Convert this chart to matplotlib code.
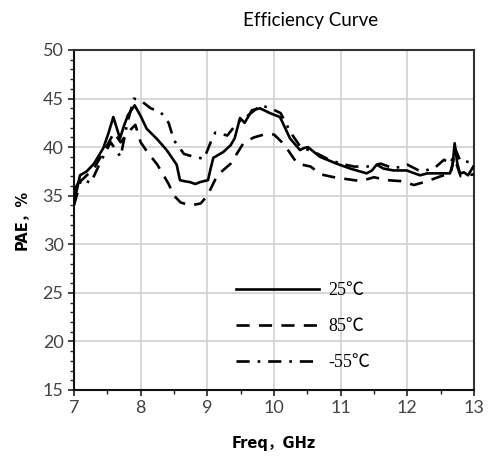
import matplotlib
matplotlib.use("Agg")
import matplotlib.pyplot as plt
from matplotlib.ticker import MultipleLocator

# ---- data ----
f_25 = [7.0, 7.05, 7.09, 7.19, 7.3, 7.44, 7.52, 7.59, 7.64, 7.69, 7.75, 7.81, 7.91, 8.0, 8.09, 8.25,
        8.39, 8.47, 8.54, 8.59, 8.65, 8.74, 8.82, 8.89, 9.01, 9.05, 9.09, 9.24, 9.35, 9.41, 9.49,
        9.56, 9.67, 9.79, 9.94, 10.09, 10.24, 10.39, 10.45, 10.51, 10.69, 10.94, 11.14, 11.39,
        11.47, 11.54, 11.64, 11.79, 11.99, 12.19, 12.3, 12.44, 12.64, 12.68, 12.71, 12.75, 12.79,
        12.85, 12.91, 12.99]
pae_25 = [34.4, 35.8, 37.1, 37.5, 38.3, 39.9, 41.5, 43.1, 42.0, 40.9, 42.2, 43.3, 44.3, 43.2, 41.9, 40.8,
          39.7, 38.9, 38.2, 36.6, 36.5, 36.4, 36.2, 36.4, 36.6, 37.8, 38.9, 39.5, 40.2, 40.9, 43.0,
          42.5, 43.8, 44.0, 43.5, 43.1, 40.9, 39.7, 39.9, 40.0, 39.0, 38.3, 37.8, 37.3,
          37.6, 38.2, 37.8, 37.6, 37.6, 37.1, 37.3, 37.3, 37.3, 38.2, 40.4, 38.3, 37.3,
          37.4, 37.1, 38.0]

f_85 = [7.0, 7.1, 7.3, 7.5, 7.6, 7.7, 7.85, 7.92, 8.0, 8.1, 8.25, 8.42, 8.5, 8.6, 8.75, 8.9, 9.0,
        9.15, 9.35, 9.55, 9.7, 9.85, 10.0, 10.15, 10.35, 10.55, 10.7, 10.9, 11.1, 11.3, 11.5, 11.7,
        11.9, 12.1, 12.3, 12.5, 12.65, 12.7, 12.8, 13.0]
pae_85 = [34.0, 36.5, 37.8, 40.2, 41.5, 40.5, 41.8, 42.3, 40.5, 39.5, 38.2, 36.2, 35.0, 34.3, 34.0, 34.2, 35.0,
          37.1, 38.3, 40.5, 41.0, 41.3, 41.3, 40.3, 38.3, 38.0, 37.2, 36.9, 36.7, 36.5, 36.9, 36.6,
          36.5, 36.1, 36.5, 37.0, 37.3, 39.0, 37.0, 37.2]

f_m55 = [7.0, 7.1, 7.25, 7.4, 7.55, 7.7, 7.8, 7.9, 8.0, 8.15, 8.3, 8.42, 8.5, 8.65, 8.8, 8.95, 9.05,
         9.12, 9.3, 9.45, 9.6, 9.8, 9.95, 10.1, 10.25, 10.4, 10.6, 10.8, 11.0, 11.2, 11.4, 11.6, 11.8,
         12.0, 12.2, 12.4, 12.55, 12.65, 12.72, 12.8, 12.9, 13.0]
pae_m55 = [35.5, 36.8, 36.3, 38.5, 40.5, 39.0, 42.5, 45.0, 44.8, 44.0, 43.6, 42.5, 40.7, 39.3, 39.0, 38.8, 40.5,
           41.5, 41.2, 42.5, 43.2, 44.3, 44.0, 43.5, 41.5, 40.0, 39.5, 38.8, 38.3, 38.0, 38.0, 38.3, 37.8,
           38.2, 37.5, 37.8, 38.7, 38.3, 39.8, 38.5, 38.5, 38.3]

labels = ["25℃", "85℃", "-55℃"]
x_ticks = [7, 8, 9, 10, 11, 12, 13]
y_ticks = [15, 20, 25, 30, 35, 40, 45, 50]

fig = plt.figure(figsize=(4.88, 4.65), dpi=100)
ax = fig.add_axes([0.1516, 0.1613, 0.8197, 0.7312])

lw = 1.9
ax.plot(f_25, pae_25, color="black", lw=lw, ls="-", label=labels[0], zorder=3)
ax.plot(f_85, pae_85, color="black", lw=lw, ls=(0, (5, 3.5)), label=labels[1], zorder=3)
ax.plot(f_m55, pae_m55, color="black", lw=lw, ls=(0, (5, 3, 1, 3)), label=labels[2], zorder=3)

ax.set_xlim(7, 13)
ax.set_ylim(15, 50)
ax.set_xticks(x_ticks)
ax.set_yticks(y_ticks)
ax.xaxis.set_minor_locator(MultipleLocator(0.5))
ax.yaxis.set_minor_locator(MultipleLocator(1))
ax.grid(True, which="major", color="#d4d4d4", lw=1.3, zorder=0)
ax.tick_params(axis="both", which="major", direction="out", length=4, width=1.2,
               colors="#222222", labelsize=13, labelcolor="#444444")
ax.tick_params(axis="both", which="minor", direction="out", length=3, width=1.0, colors="#222222")
for lab in ax.get_xticklabels() + ax.get_yticklabels():
    lab.set_family("Lato")
for s in ["left", "bottom"]:
    ax.spines[s].set_linewidth(1.5)
    ax.spines[s].set_color("#111111")
for s in ["top", "right"]:
    ax.spines[s].set_linewidth(1.5)
    ax.spines[s].set_color("#333333")

ax.set_ylabel("PAE，%", family=["DejaVu Sans", "Noto Sans CJK SC"], fontweight="bold",
              fontsize=10.5, labelpad=10)
ax.set_xlabel("Freq，GHz", family=["DejaVu Sans", "Noto Sans CJK SC"], fontweight="bold",
              fontsize=10.5, labelpad=14)

fig.text(0.637, 0.955, "Efficiency Curve", ha="center", va="center", fontsize=13.5, family="Lato")

leg = ax.legend(loc="upper left", bbox_to_anchor=(0.365, 0.365), frameon=False,
                handlelength=4.6, handletextpad=0.5, labelspacing=1.05,
                prop={"family": ["Liberation Serif", "Noto Sans CJK SC"], "size": 13})

fig.savefig("out.png", dpi=100)
